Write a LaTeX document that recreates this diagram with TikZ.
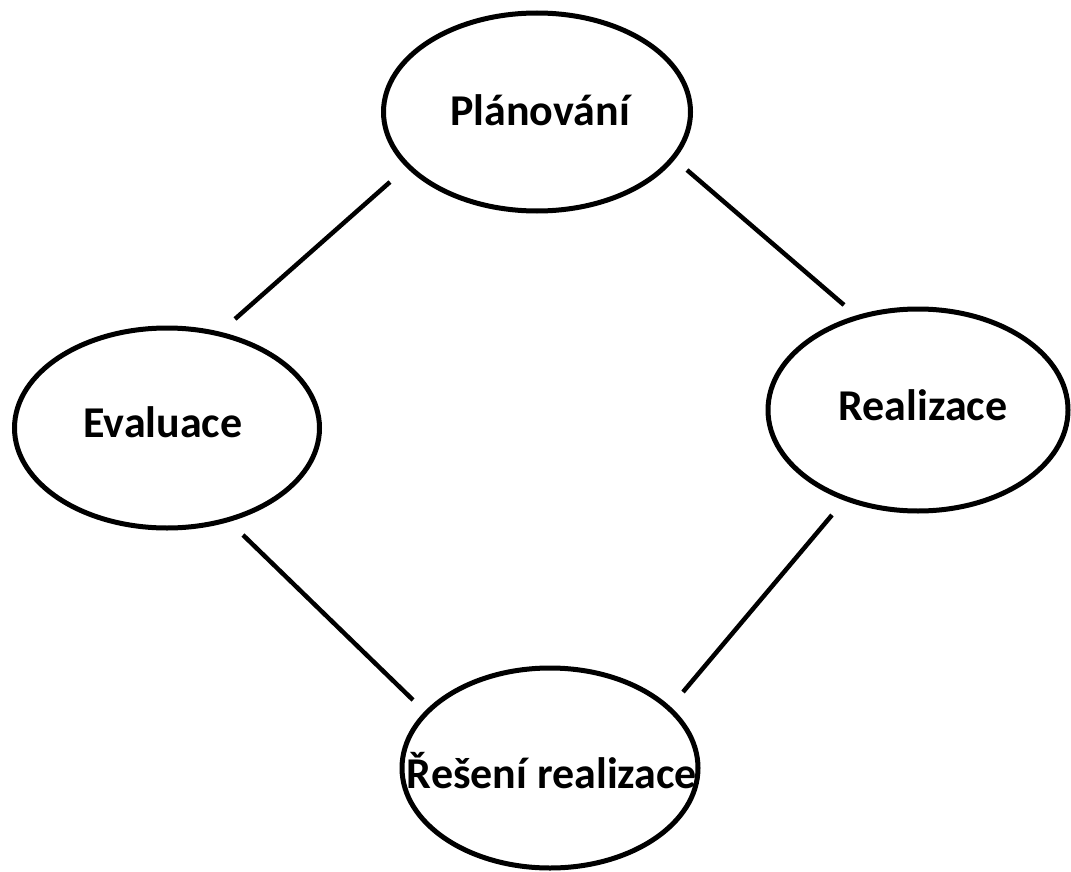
\documentclass[tikz,border=0pt]{standalone}
\usepackage{fontspec}
\setmainfont{Carlito}
\usetikzlibrary{shapes.geometric}
\begin{document}
\begin{tikzpicture}[x=1pt,y=-1pt,
  oval/.style={draw=black, line width=5pt, ellipse, inner sep=0pt},
  lbl/.style={inner sep=0pt, font=\fontsize{44}{52}\selectfont\bfseries, text height=28pt, text depth=0pt},
  link/.style={draw=black, line width=4.5pt}]
\useasboundingbox[fill=white] (0,0) rectangle (1071,872);
\node[oval, minimum width=307pt, minimum height=198pt] (plan) at (537,112) {};
\node[oval, minimum width=305pt, minimum height=200pt] (eval) at (167,428) {};
\node[oval, minimum width=300pt, minimum height=202pt] (real) at (918,410) {};
\node[oval, minimum width=296pt, minimum height=200pt] (res) at (550,768) {};
\node[lbl] (plant) at (540,112) {Plánování};
\node[lbl] (evalt) at (163,423) {Evaluace};
\node[lbl] (realt) at (923,406) {Realizace};
\node[lbl] (rest) at (552,774) {Řešení realizace};
\coordinate (a1) at (390,182); \coordinate (a2) at (235,319);
\coordinate (b1) at (687,170); \coordinate (b2) at (844,305);
\coordinate (c1) at (243,535); \coordinate (c2) at (413,700);
\coordinate (d1) at (832,515); \coordinate (d2) at (683,692);
\draw[link] (a1) -- (a2);
\draw[link] (b1) -- (b2);
\draw[link] (c1) -- (c2);
\draw[link] (d1) -- (d2);
\end{tikzpicture}
\end{document}
